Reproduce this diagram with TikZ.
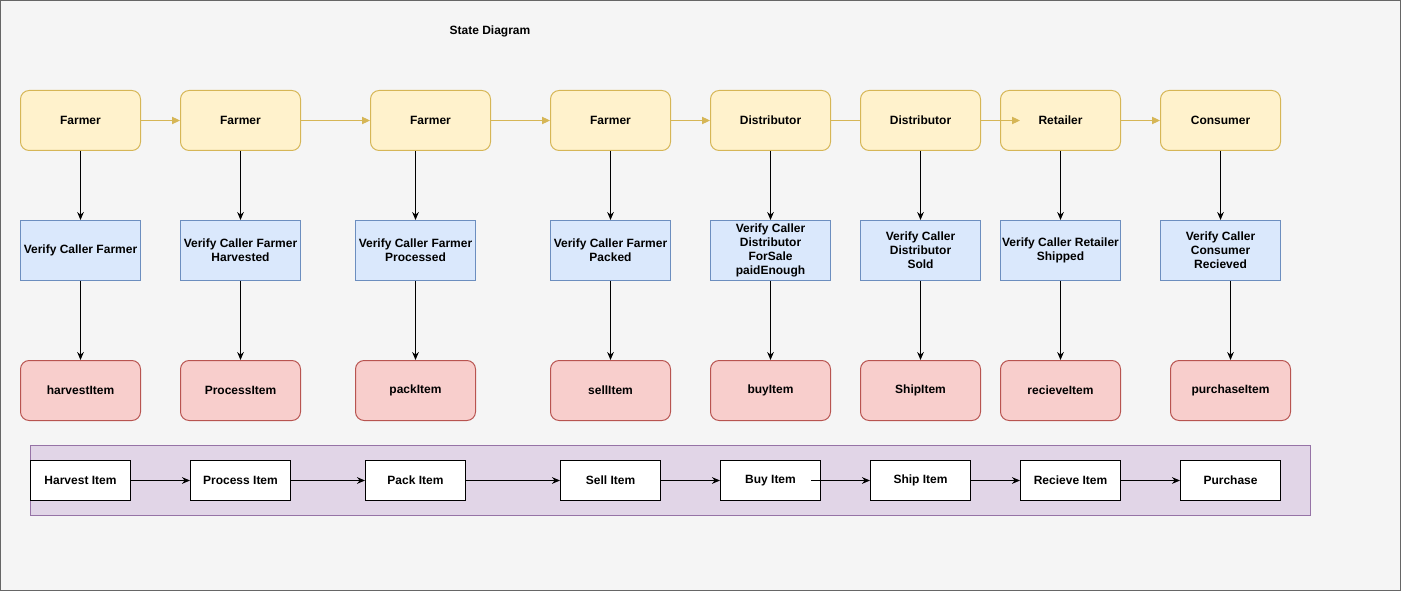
\documentclass[tikz,border=0pt]{standalone}
\usepackage{fontspec}
\setmainfont{Liberation Sans}
\usetikzlibrary{arrows.meta}
\definecolor{pagebg}{HTML}{F5F5F5}
\definecolor{pageedge}{HTML}{666666}
\definecolor{actorfill}{HTML}{FFF2CC}
\definecolor{actoredge}{HTML}{D6B656}
\definecolor{checkfill}{HTML}{DAE8FC}
\definecolor{checkedge}{HTML}{6C8EBF}
\definecolor{callfill}{HTML}{F8CECC}
\definecolor{calledge}{HTML}{B85450}
\definecolor{flowfill}{HTML}{E1D5E7}
\definecolor{flowedge}{HTML}{9673A6}
\begin{document}
\begin{tikzpicture}[x=0.75pt,y=-0.75pt,
  every node/.style={font=\fontsize{9}{10.5}\selectfont\bfseries, inner sep=0pt, align=center},
  box/.style={draw, line width=0.75pt, minimum width=90pt, minimum height=45pt, anchor=north west},
  actor/.style={box, fill=actorfill, draw=actoredge, rounded corners=6.5pt},
  check/.style={box, fill=checkfill, draw=checkedge},
  call/.style={box, fill=callfill, draw=calledge, rounded corners=6.5pt},
  stage/.style={box, fill=white, draw=black, minimum width=75pt, minimum height=30pt},
  flowarrow/.style={draw=actoredge, line width=0.75pt, -{Triangle[length=6pt,width=5.5pt]}},
  downarrow/.style={draw=black, line width=0.75pt, -{Stealth[length=6pt,width=5pt]}},
  stagearrow/.style={draw=black, line width=0.75pt, -{Stealth[length=6pt,width=5pt]}}
]
% page
\fill[pagebg, draw=pageedge, line width=0.75pt] (0.5,0.5) rectangle (1400.5,590.5);
\useasboundingbox (0,0) rectangle (1401,591);

\node (title) at (490,31) {State Diagram};

% actors
\node[actor] (a1) at (20,90) {Farmer};
\node[actor] (a2) at (180,90) {Farmer};
\node[actor] (a3) at (370,90) {Farmer};
\node[actor] (a4) at (550,90) {Farmer};
\node[actor] (a5) at (710,90) {Distributor};
\node[actor] (a6) at (860,90) {Distributor};
\node[actor] (a7) at (1000,90) {Retailer};
\node[actor] (a8) at (1160,90) {Consumer};

% caller checks
\node[check] (v1) at (20,220) {Verify Caller Farmer};
\node[check] (v2) at (180,220) {Verify Caller Farmer\\Harvested};
\node[check] (v3) at (355,220) {Verify Caller Farmer\\Processed};
\node[check] (v4) at (550,220) {Verify Caller Farmer\\Packed};
\node[check] (v5) at (710,220) {Verify Caller\\Distributor\\ForSale\\paidEnough};
\node[check] (v6) at (860,220) {Verify Caller\\Distributor\\Sold};
\node[check] (v7) at (1000,220) {Verify Caller Retailer\\Shipped};
\node[check] (v8) at (1160,220) {Verify Caller\\Consumer\\Recieved};

% contract calls
\node[call] (c1) at (20,360) {harvestItem};
\node[call] (c2) at (180,360) {ProcessItem};
\node[call] (c3) at (355,360) {packItem};
\node[call] (c4) at (550,360) {sellItem};
\node[call] (c5) at (710,360) {buyItem};
\node[call] (c6) at (860,360) {ShipItem};
\node[call] (c7) at (1000,360) {recieveItem};
\node[call] (c8) at (1170,360) {purchaseItem};

% stage strip
\node[draw=flowedge, fill=flowfill, line width=0.75pt, minimum width=960pt, minimum height=52.5pt, anchor=north west] (strip) at (30,445) {};
\node[stage] (s1) at (30,460) {Harvest Item};
\node[stage] (s2) at (190,460) {Process Item};
\node[stage] (s3) at (365,460) {Pack Item};
\node[stage] (s4) at (560,460) {Sell Item};
\node[stage] (s5) at (720,460) {Buy Item};
\node[stage] (s6) at (870,460) {Ship Item};
\node[stage] (s7) at (1020,460) {Recieve Item};
\node[stage] (s8) at (1180,460) {Purchase};

% actor chain
\draw[flowarrow] (a1.east) -- (a2.west);
\draw[flowarrow] (a2.east) -- (a3.west);
\draw[flowarrow] (a3.east) -- (a4.west);
\draw[flowarrow] (a4.east) -- (a5.west);
\draw[draw=actoredge, line width=0.75pt] (a5.east) -- (a6.west);
\draw[flowarrow] (a6.east) -- ([xshift=15pt]a7.west);
\draw[flowarrow] (a7.east) -- (a8.west);

% actor -> check
\foreach \i in {1,2,4,5,6,7,8}{
  \draw[downarrow] (a\i.south) -- (v\i.north);
}
\draw[downarrow] (a3.south -| v3.north) -- (v3.north);

% check -> call
\foreach \i in {1,2,3,4,5,6,7}{
  \draw[downarrow] (v\i.south) -- (c\i.north);
}
\draw[downarrow] (v8.south -| c8.north) -- (c8.north);

% stage chain
\draw[stagearrow] (s1.east) -- (s2.west);
\draw[stagearrow] (s2.east) -- (s3.west);
\draw[stagearrow] (s3.east) -- (s4.west);
\draw[stagearrow] (s4.east) -- (s5.west);
\draw[stagearrow] ([xshift=-7.5pt]s5.east) -- (s6.west);
\draw[stagearrow] (s6.east) -- (s7.west);
\draw[stagearrow] (s7.east) -- (s8.west);
\end{tikzpicture}
\end{document}
